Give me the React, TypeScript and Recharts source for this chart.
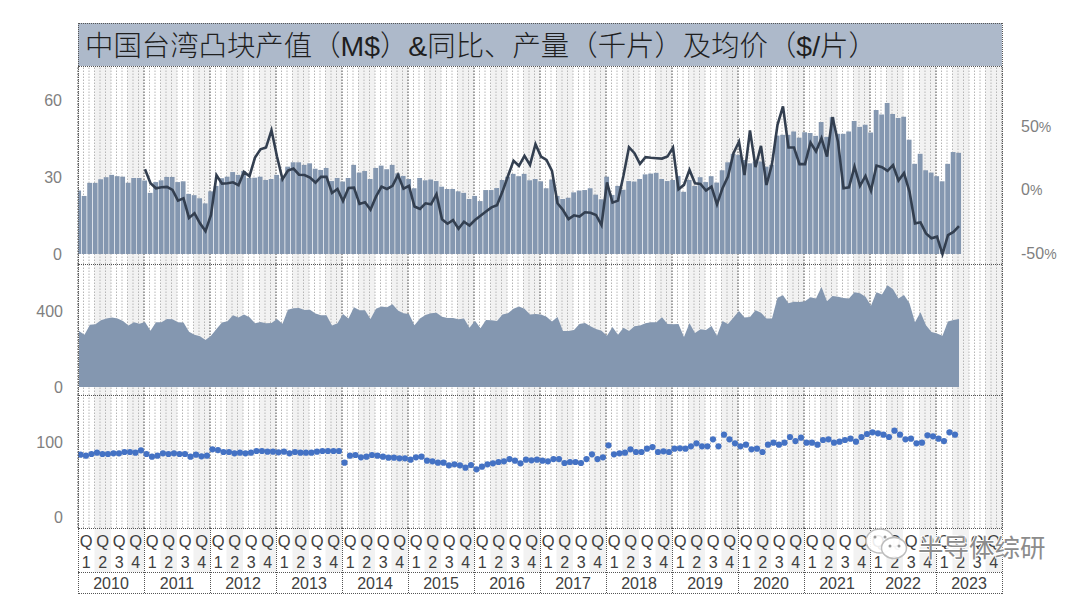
import React from "react";
import {
  ComposedChart, ScatterChart, Bar, Line, Area, Scatter, XAxis, YAxis,
  ReferenceArea, ReferenceLine,
} from "recharts";

const titleText = "中国台湾凸块产值（M$）&同比、产量（千片）及均价（$/片）";
const watermarkText = "半导体综研";
const years = [2010, 2011, 2012, 2013, 2014, 2015, 2016, 2017, 2018, 2019, 2020, 2021, 2022, 2023];

const revenue = [
  24.7,22.6,27.7,27.7,29.1,29.9,30.8,30.3,30.1,27.7,29.6,29.6,
  28.6,23.8,28,28.7,30,30,28,28.3,23.4,22.9,21.7,19.7,
  24.4,26.5,29.5,30.1,31.9,30.8,32.3,29.6,29.7,30.1,28.8,29.2,
  30.8,29.5,34,35.7,35.7,34.7,35.3,33.2,32.7,33.5,28.4,29.6,
  28.2,29.6,34.7,31.7,32.3,29.2,33.5,34.4,33,34.7,31.4,30.4,
  29.2,25.6,29.6,28.7,29,28.4,26.2,25.3,25.3,24.4,23.8,21.4,
  22.6,20.6,24.9,24.9,25.7,28.8,30.1,31.2,30.3,31.2,28.7,29.2,
  28.3,25.6,29,22.6,21.4,21.9,24,24.7,24.9,25.6,23.1,21.3,
  30.1,23,26.5,25,28.4,28.2,29.2,31,31.3,31.6,29.2,28.4,
  28.8,30.4,24.2,28.8,26.5,29.9,28,30.3,27.8,32.6,35.7,39,
  38.6,36.6,35.3,36,36,34,34.7,46.1,46.4,46.4,47.7,45.3,
  47.4,47.1,46,51.4,45.6,53.2,46.8,46.8,47.7,51.8,49.5,50.3,
  47.3,56.1,54.3,58.8,54.5,53,53.4,44.5,35.1,39,32.6,31.7,
  30.3,28.3,35.1,39.7,39.4,
];

const yoyStart = 12;
const yoy = [
  16.3,5.3,1.3,2.1,2.4,0,-8.4,-6.6,-22,-18.4,-26.3,-32.4,
  -19.7,11.6,5,5.3,6,3.7,14.2,10.8,25.5,32,33.4,47,
  26.3,8.4,15.3,16.8,12,11.8,9.7,5.8,10.3,10.3,-2.4,0.8,
  -8.7,1.6,1.8,-11,-9.7,-15.5,-5.3,2.6,0.8,3.2,11.8,1,
  3.2,-13,-15,-10.5,-11.3,-3.4,-23,-26.6,-23.7,-30.5,-25,-28,
  -23.7,-20.3,-17,-13.7,-12,-1.3,11,23,19,26.8,19.7,36,
  26.3,23.7,15,-10.5,-15.8,-23,-20,-21,-17.6,-18,-19.7,-27.6,
  6,-10,-8.4,11.3,33.7,29,20.5,25.8,25.3,25,24.7,26.3,
  33.4,0.5,4,15.8,5.3,4.7,-0.5,2.6,-11.3,1.3,10.5,28.9,
  38,11.8,46.8,18,34.7,3.9,20.3,51.3,65.8,33.4,33.4,20.3,
  20.3,37.4,30.3,40.8,26.3,57.4,38,1.3,2.1,18.4,3.2,11,
  -0.5,19.2,17.9,15,19.5,7.4,13.2,-1.3,-26.3,-25.5,-34.2,-38,
  -36.8,-50.5,-35.5,-33,-28.4,
];

const output = [
  295,275,328,330,351,361,365,360,347,323,340,333,
  342,296,340,340,358,356,340,339,291,275,267,247,
  270,305,339,346,377,365,381,367,335,342,335,337,
  358,333,407,414,416,405,407,386,377,377,323,335,
  384,361,419,404,404,358,411,423,419,435,402,388,
  384,325,361,379,388,391,370,363,363,356,360,312,
  349,309,353,351,347,382,388,412,423,411,382,384,
  382,370,344,368,295,295,300,332,337,319,305,296,
  270,316,275,312,295,319,323,335,340,340,367,332,
  330,332,263,335,284,304,300,321,270,347,332,365,
  400,365,368,404,391,361,361,470,482,440,449,447,
  451,472,465,526,451,479,475,468,465,498,493,475,
  428,498,486,535,514,465,484,440,340,393,325,289,
  282,270,344,353,358,
];

const price = [
  83.1,81.8,84,85.8,84,84,84.9,84.9,86.7,86.7,85.8,88.9,
  84,80.4,81.8,84.9,84,84.9,84,84,80.4,83.1,80.9,81.8,
  90.2,89.3,86.7,86.7,84.9,85.8,84.9,85.8,88,88,87.1,87.1,
  86.2,87.1,84.9,86.7,85.8,85.8,85.8,87.1,88,88,88,88,
  72.4,81.8,82.7,79.6,80.4,82.7,81.8,80.4,79.1,79.1,78.2,78.2,
  76.4,79.6,80.4,75.1,74.2,72.4,72.4,68.9,70.2,68.9,65.8,69.3,
  63.6,67.1,70.2,71.6,73.3,74.2,77.3,75.1,71.6,76.4,75.6,76.4,
  75.1,74.2,77.3,77.3,72,73.3,73.3,72,77.3,83.6,77.3,79.6,
  95.6,83.6,84.9,85.8,90.2,86.7,86.7,91.1,93.3,86.7,87.6,86.7,
  91.1,91.6,91.1,94.2,98.2,94.2,94.2,103.6,94.2,109.8,103.6,98.2,
  94.2,96.4,90.2,91.1,86.7,96.4,99.1,96.4,99.1,106.7,101.3,105.8,
  99.1,99.1,96.4,102.7,103.6,99.1,100.4,102.7,104.4,100.4,106.7,110.7,
  112.9,111.6,109.8,106.7,115.1,109.8,103.6,104.4,98.2,99.1,108.9,107.6,
  104.4,101.3,112.9,109.8,
];

const barTable = revenue.map((v, i) => ({
  m: i,
  revenue: v,
  yoy: i >= yoyStart ? yoy[i - yoyStart] : null,
}));
const areaTable = output.map((v, i) => ({ m: i, output: v }));
const priceTable = price.map((v, i) => ({ m: i, price: v }));

const MONTHS = 168;
const L = 78;
const W = 924;
const BAR_COLOR = "#8497b0";
const TEXT = "#7f7f7f";
const FONT = "'Liberation Sans', Arial, sans-serif";

const range = (n: number) => Array.from({ length: n }, (_, i) => i);
const backdropSpan = range(MONTHS + 1).map((m) => ({ m, guide: 0.5 }));

const OFF_A = 0.18;
const OFF_C = 0.45;

// The month/quarter/year backdrop sits in its own chart, behind the one that holds the marks.
const Backdrop = ({ top, height }: { top: number; height: number }) => (
  <div style={abs(top, height)}>
    <ComposedChart width={1080} height={height} data={backdropSpan} margin={{ top: 0, right: 78, bottom: 0, left: 0 }}>
      <XAxis dataKey="m" type="number" domain={[0, MONTHS]} hide height={0} />
      <YAxis width={78} domain={[0, 1]} tick={false} axisLine={false} tickLine={false} />
      {range(MONTHS / 6).map((k) => (
        <ReferenceArea key={"band" + k} x1={6 * k + 3} x2={6 * k + 6} fill="#f2f2f2" fillOpacity={1} stroke="none" />
      ))}
      {range(MONTHS).map((k) => (
        <ReferenceLine key={"mo" + k} x={k} stroke="#b6b6b6" strokeDasharray="1.5 1.5" strokeWidth={1} />
      ))}
      {range(years.length + 1).map((k) => (
        <ReferenceLine key={"yr" + k} x={12 * k} stroke="#666" strokeDasharray="1.5 1.5" strokeWidth={1} />
      ))}
      <Line dataKey="guide" stroke="none" dot={false} isAnimationActive={false} />
    </ComposedChart>
  </div>
);

const QuarterTick = (props: any) => {
  const { x, y, index } = props;
  const q = index % 4;
  const w = (W / MONTHS) * 3;
  return (
    <g>
      {q % 2 === 1 && <rect x={x - w / 2} y={y} width={w} height={44} fill="#f2f2f2" />}
      <text x={x} y={y + 19} textAnchor="middle" fontSize={16.5} fontFamily={FONT} fill="#404040">Q</text>
      <text x={x} y={y + 40} textAnchor="middle" fontSize={16} fontFamily={FONT} fill="#404040">{q + 1}</text>
    </g>
  );
};

const YearTick = (props: any) => {
  const { x, y, index } = props;
  return (
    <text x={x} y={y + 17} textAnchor="middle" fontSize={16} fontFamily={FONT} fill="#404040">
      {years[index]}
    </text>
  );
};

// The right axis prints a narrow percent sign, as the reference does.
const PercentTick = (props: any) => {
  const { x, y, payload } = props;
  return (
    <text x={x} y={y} dy={5.5} textAnchor="start" fontSize={16} fontFamily={FONT} fill={TEXT}>
      {payload.value}
      <tspan fontFamily="'Liberation Sans Narrow', 'Liberation Sans', sans-serif" fontSize={14}>%</tspan>
    </text>
  );
};

function abs(top: number, height: number): React.CSSProperties {
  return { position: "absolute", left: 0, top, width: 1080, height };
}

const hline = (top: number, left = L, width = W): React.CSSProperties => ({
  position: "absolute", left, top, width, height: 0, borderTop: "1px dotted #555",
});
const vline = (left: number, top: number, height: number): React.CSSProperties => ({
  position: "absolute", left, top, width: 0, height, borderLeft: "1px dotted #555",
});

export default function App() {
  const tickStyle = { fill: TEXT, fontSize: 16, fontFamily: FONT };
  return (
    <div style={{ position: "absolute", left: 0, top: 0, width: 1080, height: 594, background: "#fff", overflow: "hidden" }}>
      <div
        style={{
          position: "absolute", left: L, top: 23, width: W, height: 43, background: "#adb9ca",
          fontFamily: "'Liberation Sans', 'Noto Sans CJK SC', sans-serif", fontSize: 28.4, fontWeight: 300, lineHeight: "46px",
          color: "#1f1f1f", paddingLeft: 7, boxSizing: "border-box", whiteSpace: "nowrap",
        }}
      >
        {titleText}
      </div>

      <Backdrop top={66} height={198} />
      <Backdrop top={264} height={131} />
      <Backdrop top={395} height={133} />

      <div style={abs(66, 198)}>
        <ComposedChart width={1080} height={198} data={barTable} margin={{ top: 0, right: 0, bottom: 0, left: 0 }}>
          <XAxis xAxisId="m" dataKey="m" type="number" domain={[-OFF_A, MONTHS - OFF_A]} hide height={0} allowDataOverflow />
          <YAxis yAxisId="l" width={78} domain={[-3.9, 73.2]} ticks={[0, 30, 60]} interval={0} axisLine={false} tickLine={false} tickSize={0} tickMargin={16} tick={tickStyle} allowDataOverflow />
          <YAxis yAxisId="r" orientation="right" width={78} domain={[-58.3, 97.6]} ticks={[-50, 0, 50]} interval={0} axisLine={false} tickLine={false} tickSize={0} tickMargin={19} tick={PercentTick} allowDataOverflow />
          <Bar xAxisId="m" yAxisId="l" dataKey="revenue" fill={BAR_COLOR} barSize={4.8} isAnimationActive={false} />
          <Line xAxisId="m" yAxisId="r" dataKey="yoy" type="linear" stroke="#333f50" strokeWidth={2.6} dot={false} isAnimationActive={false} />
        </ComposedChart>
      </div>

      <div style={abs(264, 131)}>
        <ComposedChart width={1080} height={131} data={areaTable} margin={{ top: 0, right: 78, bottom: 0, left: 0 }}>
          <XAxis xAxisId="m" dataKey="m" type="number" domain={[-OFF_A, MONTHS - OFF_A]} hide height={0} allowDataOverflow />
          <YAxis width={78} domain={[-42, 647]} ticks={[0, 400]} interval={0} axisLine={false} tickLine={false} tickSize={0} tickMargin={15} tick={tickStyle} allowDataOverflow />
          <Area xAxisId="m" dataKey="output" type="linear" fill={BAR_COLOR} fillOpacity={1} stroke="none" isAnimationActive={false} />
        </ComposedChart>
      </div>

      <div style={abs(395, 199)}>
        <ScatterChart width={1080} height={199} margin={{ top: 0, right: 78, bottom: 0, left: 0 }}>
          <XAxis xAxisId="m" dataKey="m" type="number" domain={[-OFF_C, MONTHS - OFF_C]} hide height={0} allowDataOverflow />
          <XAxis
            xAxisId="q"
            type="number"
            dataKey="m"
            domain={[-OFF_C, MONTHS - OFF_C]}
            ticks={range(MONTHS / 3).map((k) => 3 * k + 1.5 - OFF_C)}
            interval={0}
            height={44}
            axisLine={false}
            tickLine={false}
            tickSize={0}
            tickMargin={0}
            tick={QuarterTick}
            allowDataOverflow
          />
          <XAxis
            xAxisId="y"
            type="number"
            dataKey="m"
            domain={[-OFF_C, MONTHS - OFF_C]}
            ticks={range(years.length).map((k) => 12 * k + 6 - OFF_C)}
            interval={0}
            height={22}
            axisLine={false}
            tickLine={false}
            tickSize={0}
            tickMargin={0}
            tick={YearTick}
            allowDataOverflow
          />
          <YAxis dataKey="price" type="number" width={78} domain={[-14.67, 162.67]} ticks={[0, 100]} interval={0} axisLine={false} tickLine={false} tickSize={0} tickMargin={15} tick={tickStyle} allowDataOverflow />
          <Scatter xAxisId="m" data={priceTable} dataKey="price" fill="#4472c4" shape={(p: any) => <circle cx={p.cx} cy={p.cy} r={3.1} fill="#4472c4" />} isAnimationActive={false} />
        </ScatterChart>
      </div>

      {[23, 66, 264, 395, 528, 572, 593].map((t) => (
        <div key={t} style={hline(t)} />
      ))}
      <div style={vline(L, 23, 571)} />
      <div style={vline(L + W, 23, 571)} />
      {range(years.length - 1).map((k) => (
        <div key={k} style={vline(L + (k + 1) * (W / years.length), 528, 65)} />
      ))}

      <svg width={1080} height={594} style={{ position: "absolute", left: 0, top: 0, pointerEvents: "none" }}>
        <ellipse cx={880} cy={541} rx={14} ry={12} fill="#fff" fillOpacity={0.9} stroke="#bdbdbd" strokeWidth={1.5} />
        <circle cx={875} cy={537} r={1.5} fill="#999" />
        <circle cx={885} cy={537} r={1.5} fill="#999" />
        <ellipse cx={894} cy={548} rx={12.5} ry={10.5} fill="#fff" fillOpacity={0.95} stroke="#bdbdbd" strokeWidth={1.5} />
        <circle cx={890} cy={546} r={1.5} fill="#999" />
        <circle cx={899} cy={546} r={1.5} fill="#999" />
        <text
          x={918}
          y={557}
          fontSize={25.5}
          fontFamily="'Noto Sans CJK SC', sans-serif"
          fill="#8c8c8c"
          stroke="#fff"
          strokeWidth={2}
          paintOrder="stroke"
        >
          {watermarkText}
        </text>
      </svg>
    </div>
  );
}
